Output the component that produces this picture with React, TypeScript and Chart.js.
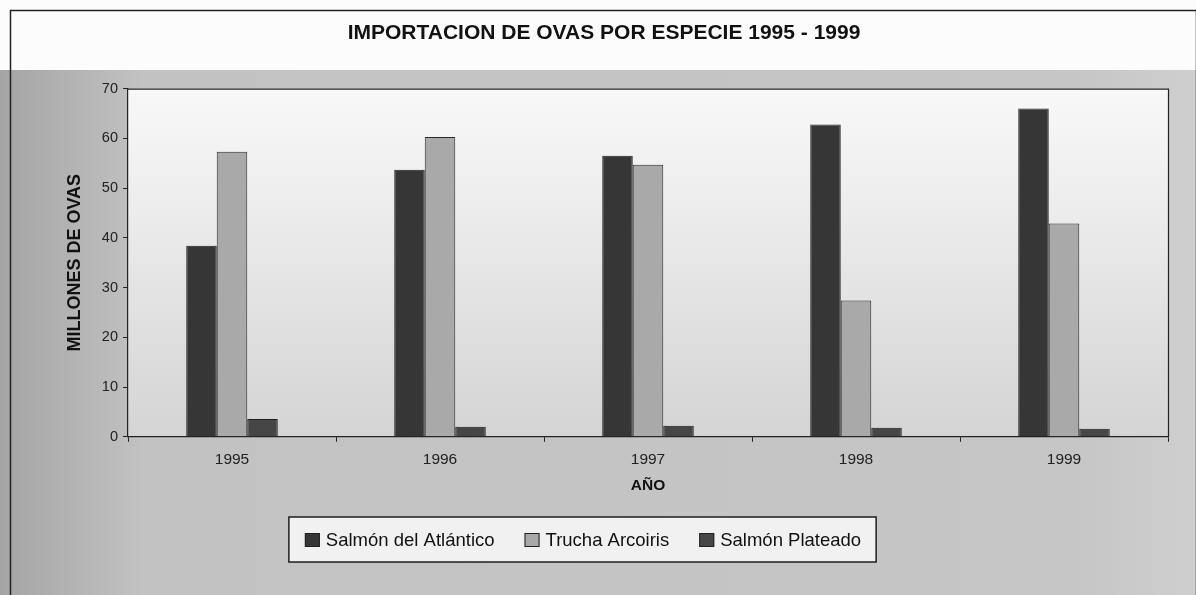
import React, { useEffect, useRef } from "react";
import { Chart, registerables } from "chart.js";
Chart.register(...registerables);

const years = ["1995", "1996", "1997", "1998", "1999"];
const atlantico = [38.4, 53.7, 56.5, 62.8, 66.0];
const trucha = [57.3, 60.3, 54.7, 27.4, 42.9];
const plateado = [3.6, 2.0, 2.2, 1.8, 1.6];
const seriesNames = ["Salmón del Atlántico", "Trucha Arcoiris", "Salmón Plateado"];
const seriesFill = ["#363636", "#a9a9a9", "#464646"];
const yMax = 70;
const yStep = 10;

const FONT = "'Liberation Sans', Arial, sans-serif";

const bgPlugin = {
  id: "bgPlugin",
  beforeDraw(chart: any) {
    const { ctx, width, height, chartArea: ca } = chart;
    ctx.save();
    const g = ctx.createLinearGradient(0, 0, width, 0);
    g.addColorStop(0, "#a4a4a4");
    g.addColorStop(0.12, "#c2c2c2");
    g.addColorStop(0.9, "#c6c6c6");
    g.addColorStop(1, "#cfcfcf");
    ctx.fillStyle = g;
    ctx.fillRect(0, 0, width, height);
    ctx.fillStyle = "#fcfcfc";
    ctx.fillRect(0, 0, width, 70);
    const pg = ctx.createLinearGradient(0, ca.top, 0, ca.bottom);
    pg.addColorStop(0, "#f8f8f8");
    pg.addColorStop(0.3, "#eeeeee");
    pg.addColorStop(1, "#d4d4d4");
    ctx.fillStyle = pg;
    ctx.fillRect(ca.left, ca.top, ca.right - ca.left, ca.bottom - ca.top);
    ctx.strokeStyle = "#222";
    ctx.lineWidth = 1.5;
    ctx.strokeRect(10.5, 10.5, width - 10, height - 5);
    ctx.restore();
  },
  afterDraw(chart: any) {
    const { ctx, chartArea: ca } = chart;
    ctx.save();
    ctx.strokeStyle = "#222";
    ctx.lineWidth = 1.2;
    ctx.beginPath();
    ctx.moveTo(ca.left, ca.top + 0.5);
    ctx.lineTo(ca.right + 0.5, ca.top + 0.5);
    ctx.lineTo(ca.right + 0.5, ca.bottom);
    ctx.stroke();

    // legend box (items from the chart's datasets)
    const ds = chart.data.datasets;
    const fontSize = 18.5;
    ctx.font = `${fontSize}px ${FONT}`;
    const marker = 15;
    const gapText = 6;
    const gapItem = 30;
    const widths = ds.map((d: any) => ctx.measureText(d.label).width);
    const content = widths.reduce((a: number, w: number) => a + marker + gapText + w, 0) + gapItem * (ds.length - 1);
    const padL = 16;
    const padR = 15;
    const boxW = content + padL + padR;
    const cx = 582.5;
    const cy = 539.5;
    const bx = cx - boxW / 2;
    const by = cy - 22.5;
    ctx.fillStyle = "#f1f1f1";
    ctx.fillRect(bx, by, boxW, 45);
    ctx.strokeStyle = "#1e1e1e";
    ctx.lineWidth = 1.5;
    ctx.strokeRect(bx, by, boxW, 45);
    let x = bx + padL;
    ctx.textBaseline = "middle";
    ds.forEach((d: any, i: number) => {
      ctx.fillStyle = d.backgroundColor;
      ctx.fillRect(x, cy - marker / 2 + 1, marker, marker - 1);
      ctx.strokeStyle = "#222";
      ctx.lineWidth = 1;
      ctx.strokeRect(x + 0.5, cy - marker / 2 + 1.5, marker - 1, marker - 2);
      x += marker + gapText;
      ctx.fillStyle = "#111";
      ctx.fillText(d.label, x, cy + 1);
      x += widths[i] + gapItem;
    });
    ctx.restore();
  },
};

export default function App() {
  const ref = useRef<HTMLCanvasElement>(null);
  useEffect(() => {
    document.body.style.margin = "0";
    const chart = new Chart(ref.current!, {
      type: "bar",
      data: {
        labels: years,
        datasets: [
          { label: seriesNames[0], data: atlantico, backgroundColor: seriesFill[0], borderColor: "#1e1e1e", borderWidth: 1 },
          { label: seriesNames[1], data: trucha, backgroundColor: seriesFill[1], borderColor: "#2a2a2a", borderWidth: 1 },
          { label: seriesNames[2], data: plateado, backgroundColor: seriesFill[2], borderColor: "#1e1e1e", borderWidth: 1 },
        ],
      },
      options: {
        responsive: false,
        animation: false,
        layout: { padding: { left: 40, right: 28, top: 0, bottom: 100 } },
        datasets: { bar: { categoryPercentage: 0.44, barPercentage: 1.0 } },
        plugins: {
          title: {
            display: true,
            text: "IMPORTACION DE OVAS POR ESPECIE 1995 - 1999",
            color: "#111",
            font: { family: FONT, size: 21, weight: "bold", lineHeight: 1.2 },
            padding: { top: 21, bottom: 42.5 },
          },
          legend: { display: false },
          tooltip: { enabled: false },
        },
        scales: {
          x: {
            grid: { display: true, drawOnChartArea: false, tickLength: 5, color: "#222", offset: true },
            border: { color: "#222", width: 1.2 },
            ticks: { color: "#222", font: { family: FONT, size: 15.5, lineHeight: 1.2 }, padding: 9 },
            title: {
              display: true,
              text: "AÑO",
              color: "#111",
              font: { family: FONT, size: 15.5, weight: "bold", lineHeight: 1.2 },
              padding: { top: -2, bottom: 0 },
            },
          },
          y: {
            min: 0,
            max: yMax,
            afterFit: (s: any) => { s.width = 88; },
            grid: { display: true, drawOnChartArea: false, tickLength: 5, color: "#222" },
            border: { color: "#222", width: 1.2 },
            ticks: { stepSize: yStep, color: "#222", font: { family: FONT, size: 14.5 }, padding: 5 },
            title: {
              display: true,
              text: "MILLONES DE OVAS",
              color: "#111",
              font: { family: FONT, size: 18, weight: "bold", lineHeight: 1.2 },
              padding: { top: 24, bottom: 0 },
            },
          },
        },
      },
      plugins: [bgPlugin],
    });
    return () => chart.destroy();
  }, []);
  return (
    <div style={{ width: 1196, height: 595 }}>
      <canvas ref={ref} width={1196} height={595} style={{ display: "block" }} />
    </div>
  );
}
